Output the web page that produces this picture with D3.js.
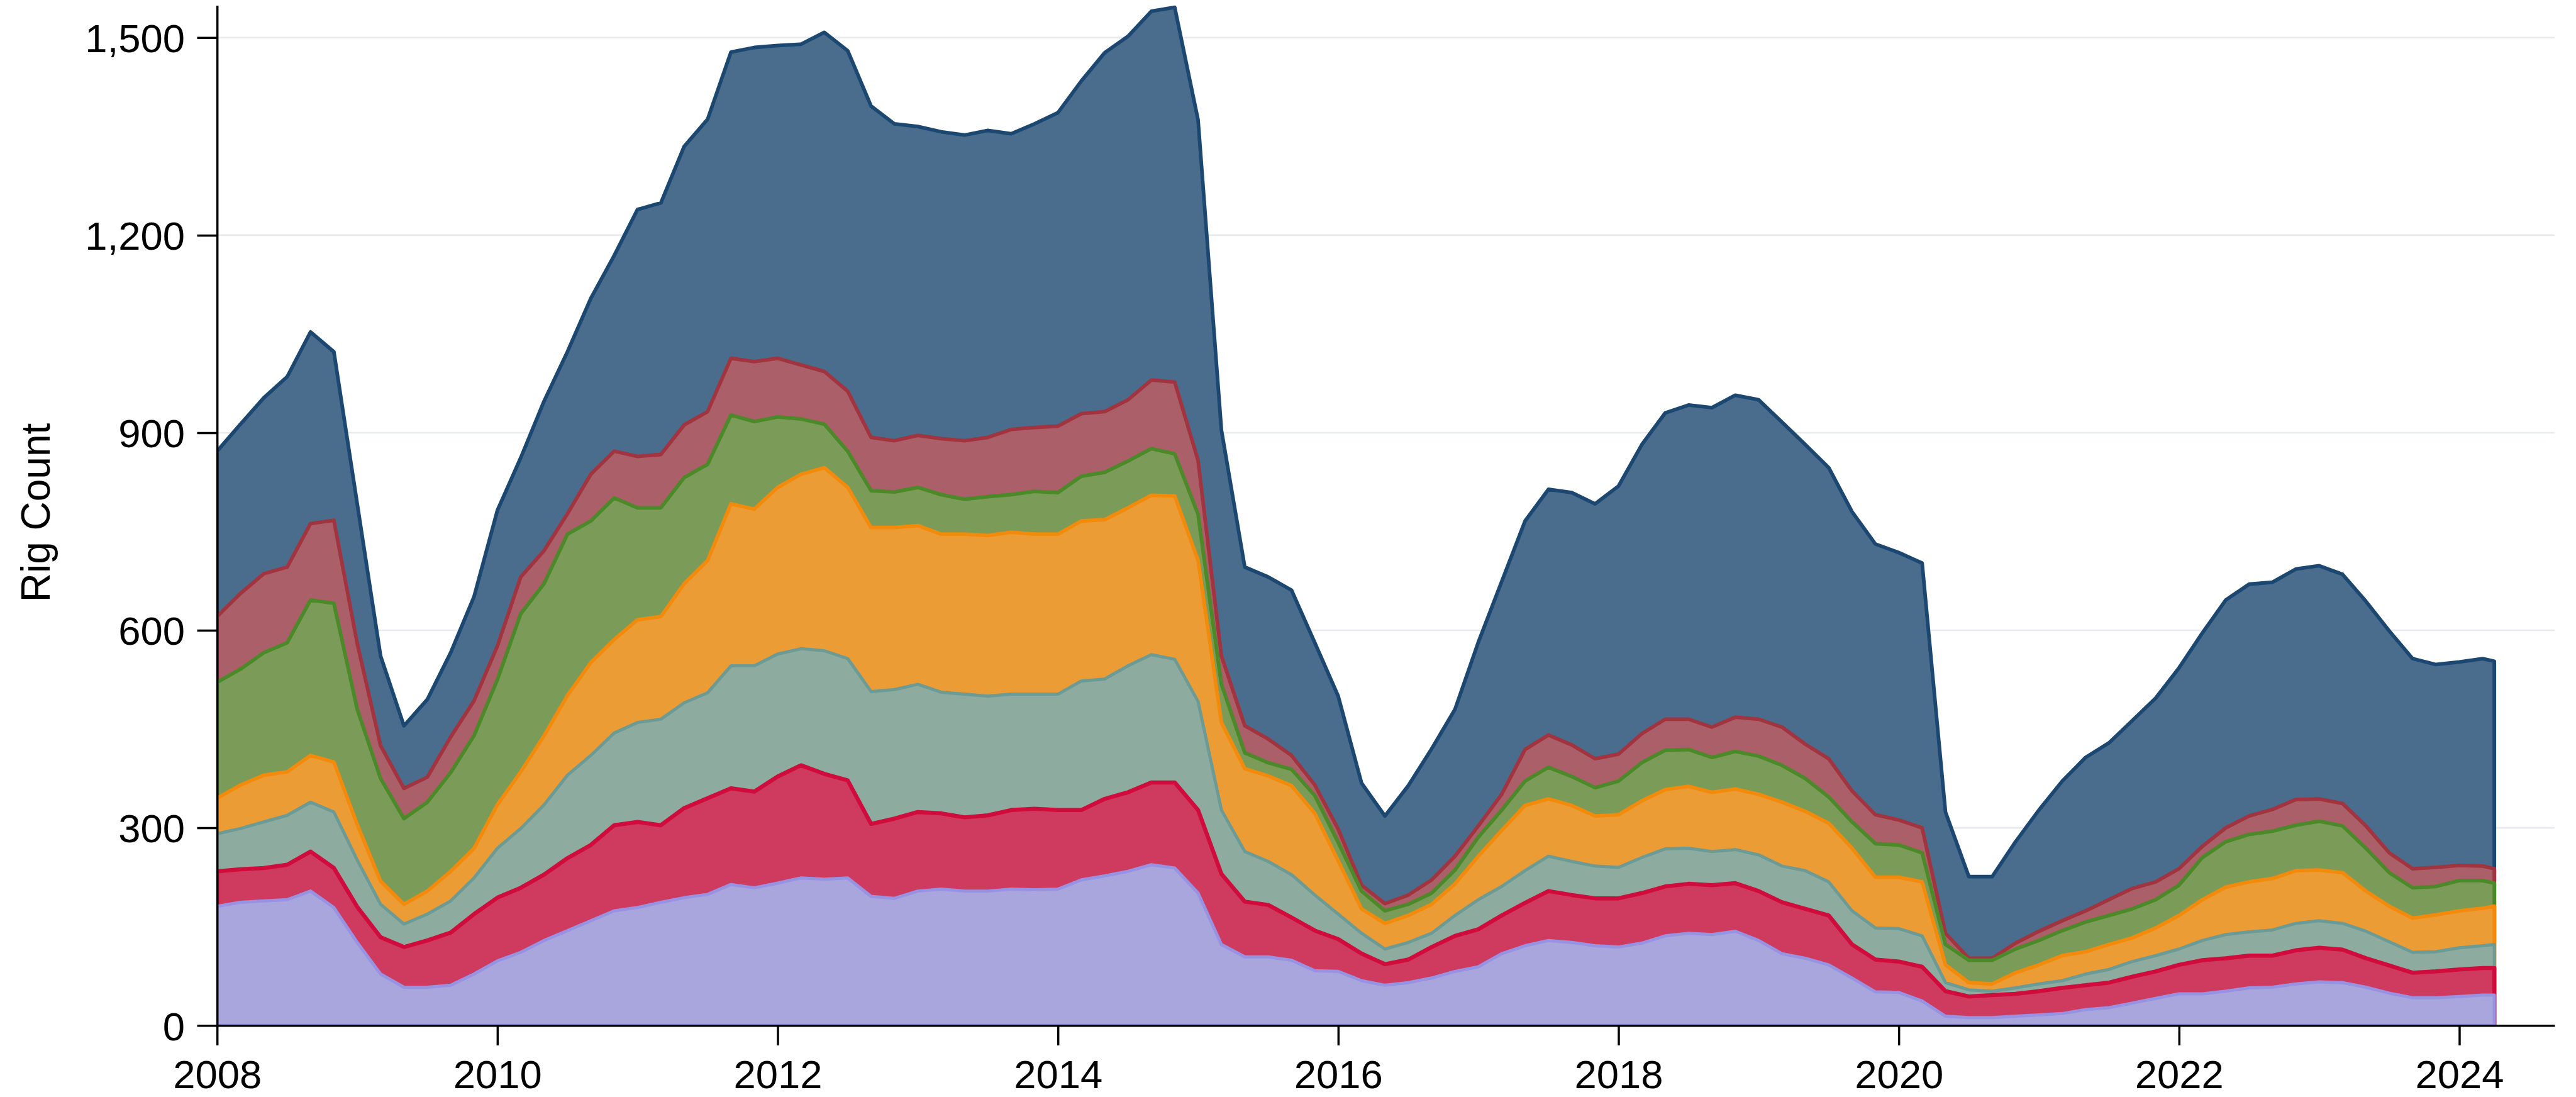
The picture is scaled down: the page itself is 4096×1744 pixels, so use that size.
<!DOCTYPE html>
<html>
<head>
<meta charset="utf-8">
<script src="https://cdn.jsdelivr.net/npm/d3@7"></script>
<style>
  html, body { margin: 0; padding: 0; background: #ffffff; }
  svg { display: block; }
</style>
</head>
<body>
<svg id="chart" width="4096" height="1744"></svg>
<script>
// ---------------- DATA ----------------
const dates = [
  "2008-01","2008-03","2008-05","2008-07","2008-09","2008-11",
  "2009-01","2009-03","2009-05","2009-07","2009-09","2009-11",
  "2010-01","2010-03","2010-05","2010-07","2010-09","2010-11",
  "2011-01","2011-03","2011-05","2011-07","2011-09","2011-11",
  "2012-01","2012-03","2012-05","2012-07","2012-09","2012-11",
  "2013-01","2013-03","2013-05","2013-07","2013-09","2013-11",
  "2014-01","2014-03","2014-05","2014-07","2014-09","2014-11",
  "2015-01","2015-03","2015-05","2015-07","2015-09","2015-11",
  "2016-01","2016-03","2016-05","2016-07","2016-09","2016-11",
  "2017-01","2017-03","2017-05","2017-07","2017-09","2017-11",
  "2018-01","2018-03","2018-05","2018-07","2018-09","2018-11",
  "2019-01","2019-03","2019-05","2019-07","2019-09","2019-11",
  "2020-01","2020-03","2020-05","2020-07","2020-09","2020-11",
  "2021-01","2021-03","2021-05","2021-07","2021-09","2021-11",
  "2022-01","2022-03","2022-05","2022-07","2022-09","2022-11",
  "2023-01","2023-03","2023-05","2023-07","2023-09","2023-11",
  "2024-01","2024-03","2024-04"
];

// stacked series, bottom to top
const lavenderSeries = [
  181,187,189,191,204,179, 126,78,58,58,61,78, 98,111,129,144,159,174,
  179,187,194,199,214,209, 216,224,222,224,196,193, 204,207,204,204,207,206,
  207,221,227,234,244,239, 201,123,104,104,99,83, 82,68,61,65,72,82,
  89,109,121,129,126,121, 119,125,136,140,138,143, 129,109,102,92,72,51,
  50,37,14,12,12,14, 16,18,24,27,34,41, 48,48,52,57,58,63,
  66,65,58,49,42,42, 44,46,46
];
const crimsonSeries = [
  53,50,50,53,60,60, 54,56,61,71,80,91, 96,98,100,110,115,130,
  130,117,136,146,146,146, 162,171,160,148,110,121, 120,115,112,115,120,123,
  120,106,117,120,125,130, 126,107,84,79,65,61, 49,41,32,35,47,54,
  57,58,65,75,72,72, 74,76,75,75,75,73, 75,78,75,75,51,49,
  47,52,38,32,34,34, 36,39,37,38,40,41, 44,51,50,49,48,51,
  52,50,44,42,38,40, 41,41,41
];
const tealSeries = [
  57,62,70,75,75,85, 71,50,35,40,48,55, 75,90,106,126,136,140,
  151,161,160,160,186,191, 186,177,187,185,201,196, 194,184,187,181,176,174,
  176,196,182,192,194,187, 165,97,76,66,65,54, 38,31,23,26,21,31,
  45,44,49,53,51,49, 47,54,57,54,51,51, 55,55,58,51,51,48,
  50,47,13,10,6,9, 11,11,17,20,23,24, 24,30,36,36,39,41,
  41,40,41,36,31,30, 33,34,36
];
const orangeSeries = [
  54,66,71,66,71,76, 54,35,30,35,45,45, 66,86,105,121,141,142,
  156,156,181,201,246,238, 253,265,278,260,249,246, 241,240,243,244,246,243,
  243,243,242,240,242,248, 214,133,126,130,135,124, 81,37,39,41,44,48,
  66,85,99,87,85,76, 80,86,90,94,90,92, 92,97,90,89,95,77,
  78,82,27,11,11,23, 29,38,34,38,36,42, 51,62,72,76,78,80,
  77,77,61,54,52,56, 56,57,58
];
const greenSeries = [
  176,176,186,196,236,241, 175,156,130,135,150,171, 190,240,231,245,215,215,
  170,165,161,146,135,133, 107,84,66,55,56,54, 58,60,53,59,57,65,
  63,68,72,71,71,64, 70,58,24,20,25,27, 28,27,19,17,17,21,
  29,31,37,48,44,43, 51,58,60,56,53,57, 58,56,50,40,40,51,
  49,44,31,34,36,36, 37,38,45,44,44,43, 46,64,69,72,72,69,
  74,71,65,51,46,43, 46,42,35
];
const roseSeries = [
  100,115,120,115,116,126, 100,50,46,38,54,53, 51,56,50,31,71,71,
  78,81,80,80,86,91, 89,82,80,91,81,78, 79,85,89,90,99,97,
  101,95,92,93,104,109, 82,43,41,36,21,16, 20,9,11,14,20,21,
  17,24,48,49,48,44, 41,44,47,46,46,52, 56,58,52,58,47,44,
  38,38,17,3,3,9, 14,15,17,24,31,27, 25,17,21,28,33,39,
  34,34,34,30,29,29, 23,22,22
];
const blueSeries = [
  251,257,267,289,291,256, 212,136,95,118,128,158, 206,181,227,246,267,297,
  375,382,423,444,465,477, 475,487,515,517,503,481, 469,466,464,466,449,461,
  476,505,545,552,560,569, 517,343,241,246,251,216, 202,155,133,166,199,223,
  279,323,347,373,383,387, 407,439,465,477,485,489, 485,463,455,442,424,411,
  406,402,184,124,124,154, 184,212,233,238,255,279, 305,324,346,352,345,350,
  354,348,341,337,319,308, 309,315,315
];

const seriesKeys = ["lavender","crimson","teal","orange","green","rose","blue"];
const seriesValues = [lavenderSeries, crimsonSeries, tealSeries, orangeSeries, greenSeries, roseSeries, blueSeries];

const yTickValues = [0, 300, 600, 900, 1200, 1500];
const xTickValues = [2008, 2010, 2012, 2014, 2016, 2018, 2020, 2022, 2024];
const yTitle = "Rig Count";

// ---------------- STYLE ----------------
const fills   = {lavender:"#a9a5dd", crimson:"#cf3b5f", teal:"#8eab9f", orange:"#ec9c35", green:"#7b9b59", rose:"#aa5f69", blue:"#4a6d8e"};
const strokes = {lavender:"#9792e2", crimson:"#d00c3c", teal:"#6c9b96", orange:"#f28b0c", green:"#4c8a29", rose:"#a2343f", blue:"#1c4770"};
const strokeW = {lavender:5, crimson:6.5, teal:5, orange:5.8, green:5.8, rose:5.8, blue:5.8};

const W = 4096, H = 1744;
const X0 = 345.2, X1 = 4062, YB = 1630.2, YT = 8.5;
const FONT = "'Liberation Sans', Arial, Helvetica, sans-serif";
const FS = 63.4;

// ---------------- BUILD ----------------
const table = dates.map((d, i) => {
  const [yy, mm] = d.split("-").map(Number);
  const row = { t: yy + (mm - 1) / 12 };
  seriesKeys.forEach((k, j) => { row[k] = seriesValues[j][i]; });
  return row;
});

const x = d3.scaleLinear().domain([2008, 2024.68]).range([X0, X1]);
const y = d3.scaleLinear().domain([0, 1549]).range([YB, YT]);

const svg = d3.select("#chart");
svg.append("rect").attr("width", W).attr("height", H).attr("fill", "#ffffff");

// gridlines
svg.append("g").selectAll("line")
  .data(yTickValues.filter(v => v > 0))
  .join("line")
  .attr("x1", X0).attr("x2", X1)
  .attr("y1", d => y(d)).attr("y2", d => y(d))
  .attr("stroke", "#e6e9ee").attr("stroke-width", 2.6);

// clip
svg.append("defs").append("clipPath").attr("id", "plotclip")
  .append("rect").attr("x", X0).attr("y", 0).attr("width", W - X0).attr("height", YB);

const stacked = d3.stack().keys(seriesKeys)(table);

const area = d3.area()
  .x(d => x(d.data.t))
  .y0(() => y(0))
  .y1(d => y(d[1]))
  .curve(d3.curveLinear);

// draw cumulative areas from the top layer down (each from zero)
const gAreas = svg.append("g").attr("clip-path", "url(#plotclip)");
gAreas.selectAll("path")
  .data(stacked.slice().reverse())
  .join("path")
  .attr("d", area)
  .attr("fill", d => fills[d.key])
  .attr("stroke", d => strokes[d.key])
  .attr("stroke-width", d => strokeW[d.key])
  .attr("stroke-linejoin", "round");

// y axis
const yAxis = d3.axisLeft(y)
  .tickValues(yTickValues)
  .tickSize(31.7)
  .tickSizeOuter(0)
  .tickPadding(19.5)
  .tickFormat(d3.format(","));
const gy = svg.append("g").attr("transform", `translate(${X0},0)`).call(yAxis);
gy.select(".domain").attr("stroke", "#000").attr("stroke-width", 3.5);
gy.selectAll(".tick line").attr("stroke", "#000").attr("stroke-width", 3.5);
gy.selectAll(".tick text")
  .attr("font-family", FONT).attr("font-size", FS).attr("fill", "#000")
  .attr("dy", "0.36em");

// x axis
const xAxis = d3.axisBottom(x)
  .tickValues(xTickValues)
  .tickSize(31.7)
  .tickSizeOuter(0)
  .tickFormat(d3.format("d"));
const gx = svg.append("g").attr("transform", `translate(0,${YB})`).call(xAxis);
gx.select(".domain").attr("stroke", "#000").attr("stroke-width", 3.5);
gx.selectAll(".tick line").attr("stroke", "#000").attr("stroke-width", 3.5);
gx.selectAll(".tick text")
  .attr("font-family", FONT).attr("font-size", FS).attr("fill", "#000")
  .attr("y", 1730 - YB).attr("dy", 0);

// y title
svg.append("text")
  .attr("transform", `translate(79,815) rotate(-90)`)
  .attr("text-anchor", "middle")
  .attr("font-family", FONT).attr("font-size", 64).attr("fill", "#000")
  .text(yTitle);
</script>
</body>
</html>
